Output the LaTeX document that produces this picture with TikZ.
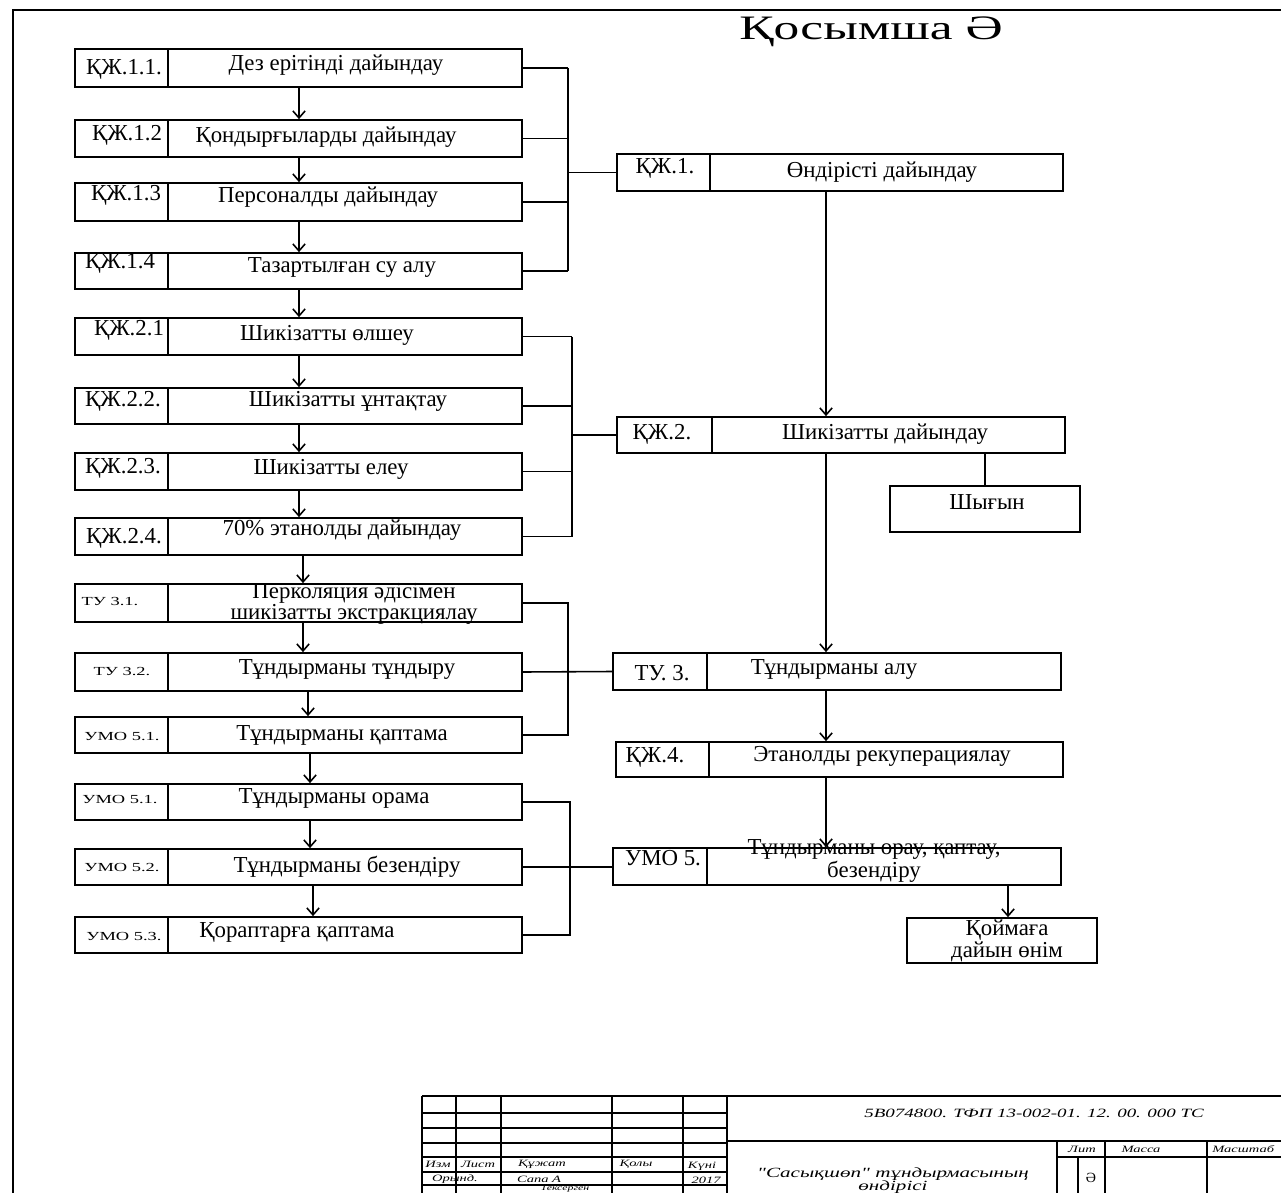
\documentclass[tikz,border=0pt]{standalone}
\usepackage{fontspec}
\setmainfont{Liberation Serif}
\newfontfamily\titlefont[FakeStretch=1.5]{Liberation Serif}
\newfontfamily\smallfont[FakeStretch=1.5]{Liberation Serif}
\newfontfamily\gostfont[FakeStretch=1.5]{Liberation Serif}
\usetikzlibrary{fit,arrows.meta}
\newcommand{\procbox}[6]{%
  \node[pbox, fit={(#2,#3) (#4,#5)}] (#1) {};
  \draw[boxline] (#6,#3) -- (#6,#5);
}
\tikzset{
  boxline/.style={line width=1pt},
  pbox/.style={draw, line width=1pt, inner sep=0pt},
  txt/.style={font=\fontsize{13}{14}\selectfont, inner sep=0pt, align=center},
  lbl/.style={font=\fontsize{13}{14}\selectfont, inner sep=0pt},
  slbl/.style={font=\smallfont\fontsize{7}{8}\selectfont, inner sep=0pt},
  arr/.style={-{Straight Barb[length=4pt,width=7pt]}, line width=0.9pt},
  bus/.style={line width=0.9pt},
  tb/.style={line width=1.3pt},
  tbt/.style={font=\gostfont\itshape\fontsize{5.5}{6}\selectfont, inner sep=0pt},
  tbc/.style={font=\gostfont\itshape\fontsize{7.2}{8}\selectfont, inner sep=0pt, align=center}
}
\begin{document}
\begin{tikzpicture}[x=0.02cm, y=-0.02cm]
\useasboundingbox (0,0) rectangle (1281,1193);
\clip (0,0) rectangle (1281,1193);
% sheet border
\draw[line width=1.2pt] (13,1193) -- (13,10) -- (1281,10);
% title
\node[font=\titlefont\fontsize{19.5}{22}\selectfont, inner sep=0pt, anchor=base] (title) at (871,40) {Қосымша Ә};

% left column boxes
\procbox{b11}{75}{49}{522}{87}{168}
\procbox{b12}{75}{120}{522}{157}{168}
\procbox{b13}{75}{183}{522}{221}{168}
\procbox{b14}{75}{253}{522}{289}{168}
\procbox{b21}{75}{318}{522}{355}{168}
\procbox{b22}{75}{388}{522}{424}{168}
\procbox{b23}{75}{453}{522}{490}{168}
\procbox{b24}{75}{518}{522}{555}{168}
\procbox{b31}{75}{584}{522}{622}{168}
\procbox{b32}{75}{653}{522}{691}{168}
\procbox{b51}{75}{717}{522}{753}{168}
\procbox{c51}{75}{784}{522}{820}{168}
\procbox{c52}{75}{849}{522}{885}{168}
\procbox{c53}{75}{917}{522}{953}{168}

% left labels and texts
\node[lbl] (l11) at (124,69) {ҚЖ.1.1.};
\node[txt] (t11) at (336,65) {Дез ерітінді дайындау};
\node[lbl] (l12) at (127,135) {ҚЖ.1.2};
\node[txt] (t12) at (326,137) {Қондырғыларды дайындау};
\node[lbl] (l13) at (126,195) {ҚЖ.1.3};
\node[txt] (t13) at (328,197) {Персоналды дайындау};
\node[lbl] (l14) at (120,263) {ҚЖ.1.4};
\node[txt] (t14) at (342,267) {Тазартылған су алу};
\node[lbl] (l21) at (129,330) {ҚЖ.2.1};
\node[txt] (t21) at (327,335) {Шикізатты өлшеу};
\node[lbl] (l22) at (123,401) {ҚЖ.2.2.};
\node[txt] (t22) at (348,401) {Шикізатты ұнтақтау};
\node[lbl] (l23) at (123,468) {ҚЖ.2.3.};
\node[txt] (t23) at (331,469) {Шикізатты елеу};
\node[lbl] (l24) at (124,538) {ҚЖ.2.4.};
\node[txt] (t24) at (342,530) {70\% этанолды дайындау};
\node[slbl] (l31) at (110,602) {ТУ 3.1.};
\node[txt, font=\fontsize{13}{12}\selectfont] (t31) at (354,604) {Перколяция әдісімен\\шикізатты экстракциялау};
\node[slbl] (l32) at (122,672) {ТУ 3.2.};
\node[txt] (t32) at (347,669) {Тұндырманы тұндыру};
\node[slbl] (l51) at (122,737) {УМО 5.1.};
\node[txt] (t51) at (342,735) {Тұндырманы қаптама};
\node[slbl] (m51) at (120,800) {УМО 5.1.};
\node[txt] (u51) at (334,798) {Тұндырманы орама};
\node[slbl] (m52) at (122,868) {УМО 5.2.};
\node[txt] (u52) at (347,867) {Тұндырманы безендіру};
\node[slbl] (m53) at (124,937) {УМО 5.3.};
\node[txt] (u53) at (297,932) {Қораптарға қаптама};

% right column boxes
\procbox{k1}{617}{154}{1063}{191}{710}
\procbox{k2}{617}{417}{1065}{453}{712}
\node[pbox, fit={(890,486) (1080,532)}] (loss) {};
\procbox{t3}{613}{653}{1061}{690}{707}
\procbox{k4}{616}{742}{1063}{777}{709}
\procbox{u5}{613}{848}{1061}{885}{707}
\node[pbox, fit={(907,918) (1097,963)}] (store) {};

\node[lbl] (lk1) at (665,168) {ҚЖ.1.};
\node[txt] (tk1) at (882,172) {Өндірісті дайындау};
\node[lbl] (lk2) at (662,434) {ҚЖ.2.};
\node[txt] (tk2) at (885,434) {Шикізатты дайындау};
\node[txt] (tloss) at (987,502) {Шығын};
\node[lbl] (lt3) at (662,673) {ТУ. 3.};
\node[txt] (tt3) at (834,669) {Тұндырманы алу};
\node[lbl] (lk4) at (655,757) {ҚЖ.4.};
\node[txt] (tk4) at (882,756) {Этанолды рекуперациялау};
\node[lbl] (lu5) at (663,858) {УМО 5.};
\node[txt, font=\fontsize{13}{11.5}\selectfont] (tu5) at (874,861) {Тұндырманы орау, қаптау,\\безендіру};
\node[txt, font=\fontsize{13}{11.5}\selectfont] (tstore) at (1007,941) {Қоймаға\\дайын өнім};

% column coordinates
\coordinate (xa) at (299,0);
\coordinate (xc) at (303,0);
\coordinate (xd) at (308,0);
\coordinate (xe) at (310,0);
\coordinate (xf) at (313,0);
\coordinate (xr) at (826,0);
\coordinate (xs) at (985,0);
\coordinate (xq) at (1008,0);
\coordinate (bus1) at (568,0);
\coordinate (bus2) at (572,0);
\coordinate (bus3) at (568,0);
\coordinate (bus4) at (570,0);

% vertical arrows, left column
\draw[arr] (b11.south -| xa) -- (b12.north -| xa);
\draw[arr] (b12.south -| xa) -- (b13.north -| xa);
\draw[arr] (b13.south -| xa) -- (b14.north -| xa);
\draw[arr] (b14.south -| xa) -- (b21.north -| xa);
\draw[arr] (b21.south -| xa) -- (b22.north -| xa);
\draw[arr] (b22.south -| xa) -- (b23.north -| xa);
\draw[arr] (b23.south -| xa) -- (b24.north -| xa);
\draw[arr] (b24.south -| xc) -- (b31.north -| xc);
\draw[arr] (b31.south -| xc) -- (b32.north -| xc);
\draw[arr] (b32.south -| xd) -- (b51.north -| xd);
\draw[arr] (b51.south -| xe) -- (c51.north -| xe);
\draw[arr] (c51.south -| xe) -- (c52.north -| xe);
\draw[arr] (c52.south -| xf) -- (c53.north -| xf);

% bus group 1
\foreach \n in {b11,b12,b13,b14} \draw[bus] (\n.east) -- (\n.east -| bus1);
\draw[bus] (b11.east -| bus1) -- (b14.east -| bus1);
\draw[bus] (k1.west -| bus1) -- (k1.west);
% bus group 2
\foreach \n in {b21,b22,b23,b24} \draw[bus] (\n.east) -- (\n.east -| bus2);
\draw[bus] (b21.east -| bus2) -- (b24.east -| bus2);
\draw[bus] (k2.west -| bus2) -- (k2.west);
% bus group 3
\draw[bus] (b31.east) -- (b31.east -| bus3) -- (b51.east -| bus3) -- (b51.east);
\draw[bus] (b32.east) -- (t3.west);
% bus group 4
\draw[bus] (c51.east) -- (c51.east -| bus4) -- (c53.east -| bus4) -- (c53.east);
\draw[bus] (c52.east) -- (c52.east -| u5.west);

% right column arrows
\draw[arr] (k1.south -| xr) -- (k2.north -| xr);
\draw[arr] (k2.south -| xr) -- (t3.north -| xr);
\draw[arr] (t3.south -| xr) -- (k4.north -| xr);
\draw[arr] (k4.south -| xr) -- (u5.north -| xr);
\draw[line width=1.5pt] (k2.south -| xs) -- (loss.north -| xs);
\draw[arr] (u5.south -| xq) -- (store.north -| xq);

% title block
\draw[tb] (422,1096) -- (1281,1096);
\foreach \xx in {422,456,501,612,683,727} \draw[tb] (\xx,1096) -- (\xx,1193);
\foreach \yy in {1113,1128,1143,1157,1172,1185} \draw[tb] (422,\yy) -- (727,\yy);
\draw[tb] (727,1141) -- (1281,1141);
\foreach \xx in {1057,1105,1207} \draw[tb] (\xx,1141) -- (\xx,1193);
\draw[tb] (1078,1157) -- (1078,1193);
\draw[tb] (1057,1157) -- (1281,1157);

\node[tbc] (code) at (1034,1113) {5В074800. ТФП 13-002-01. 12. 00. 000 ТС};
\node[tbt] (h1) at (438,1164) {Изм};
\node[tbt] (h2) at (478,1164) {Лист};
\node[tbt] (h3) at (542,1164) {Құжат};
\node[tbt] (h4) at (636,1164) {Қолы};
\node[tbt] (h5) at (702,1166) {Күні};
\node[tbt] (r1) at (455,1179) {Орынд.};
\node[tbt] (r2) at (539,1179) {Сапа А};
\node[tbt] (r3) at (706,1180) {2017};
\node[tbt, font=\gostfont\itshape\fontsize{4.5}{5}\selectfont] (r4) at (565,1189) {Тексерген};
\node[tbc, font=\gostfont\itshape\fontsize{8}{7.5}\selectfont] (nm) at (893,1181) {"Сасықшөп" тұндырмасының\\өндірісі};
\node[tbt] (lit) at (1082,1149) {Лит};
\node[tbt] (mass) at (1141,1149) {Масса};
\node[tbt, anchor=west] (msh) at (1212,1149) {Масштаб};
\node[tbt, font=\fontsize{8}{9}\selectfont] (litv) at (1091,1178) {Ә};
\end{tikzpicture}
\end{document}
